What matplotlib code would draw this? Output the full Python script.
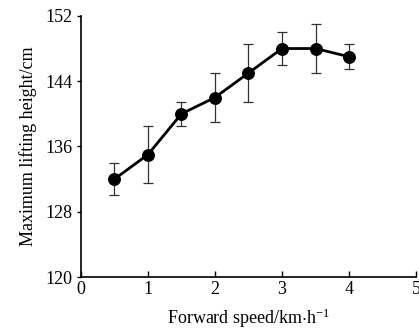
import matplotlib
matplotlib.use("Agg")
import matplotlib.pyplot as plt

plt.rcParams['font.family'] = ['Liberation Serif', 'DejaVu Serif']
plt.rcParams['mathtext.fontset'] = 'custom'
plt.rcParams['mathtext.rm'] = 'Liberation Serif'
plt.rcParams['mathtext.it'] = 'Liberation Serif:italic'

speed = [0.5, 1.0, 1.5, 2.0, 2.5, 3.0, 3.5, 4.0]
height = [132.0, 135.0, 140.0, 142.0, 145.0, 148.0, 148.0, 147.0]
err = [2.0, 3.5, 1.5, 3.0, 3.5, 2.0, 3.0, 1.5]
xticks = [0, 1, 2, 3, 4, 5]
yticks = [120, 128, 136, 144, 152]

fig = plt.figure(figsize=(4.19, 3.31), dpi=100)
ax = fig.add_axes([0.193, 0.163, 0.800, 0.789])
ax.errorbar(speed, height, yerr=err, color='black', lw=2.0, marker='o',
            markersize=8.3, elinewidth=0.9, capsize=3.6, capthick=0.9,
            ecolor='#333333')
ax.set_xlim(0, 5)
ax.set_ylim(120, 152)
ax.set_xticks(xticks)
ax.set_yticks(yticks)
ax.spines['top'].set_visible(False)
ax.spines['right'].set_visible(False)
ax.spines['left'].set_linewidth(1.2)
ax.spines['bottom'].set_linewidth(1.2)
ax.tick_params(axis='x', direction='in', length=4, width=1.0, labelsize=13, pad=3)
ax.tick_params(axis='y', direction='out', length=3, width=1.0, labelsize=13, pad=3)
ax.set_xlabel(r'Forward speed/km$\cdot$h$^{-1}$', fontsize=13, labelpad=6)
ax.set_ylabel('Maximum lifting height/cm', fontsize=13, labelpad=6)
fig.savefig('out.png', dpi=100)
